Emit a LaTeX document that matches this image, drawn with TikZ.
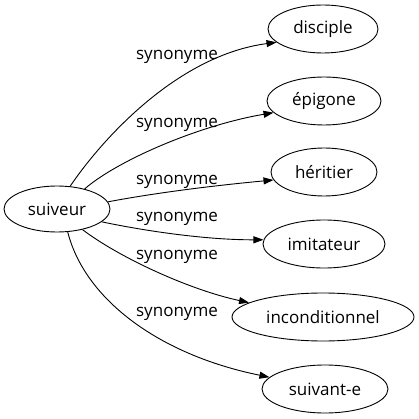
\documentclass[tikz,border=0pt]{standalone}
\usepackage{fontspec}
\setmainfont{Open Sans}
\usetikzlibrary{shapes.geometric,arrows.meta}
\begin{document}
\begin{tikzpicture}[x=1pt,y=-1pt,
  word/.style={ellipse,draw,line width=0.9pt,inner sep=0pt,font=\fontsize{17}{20}\selectfont},
  lbl/.style={anchor=base,inner sep=0pt,font=\fontsize{17}{20}\selectfont},
  link/.style={line width=0.9pt,-{Triangle[length=10pt,width=7pt]}}]
\useasboundingbox (0,0) rectangle (419,419);
\node[word,minimum width=106pt,minimum height=46pt] (s) at (57,209) {suiveur};
\node[word,minimum width=110pt,minimum height=48pt] (d) at (323,29) {disciple};
\node[word,minimum width=114pt,minimum height=48pt] (e) at (324,101) {épigone};
\node[word,minimum width=106pt,minimum height=48pt] (h) at (324,172) {héritier};
\node[word,minimum width=122pt,minimum height=48pt] (i) at (324,244) {imitateur};
\node[word,minimum width=182pt,minimum height=48pt] (c) at (323,317) {inconditionnel};
\node[word,minimum width=126pt,minimum height=48pt] (v) at (325,389) {suivant-e};
\node[lbl] (l1) at (177,60) {synonyme};
\node[lbl] (l2) at (177,128) {synonyme};
\node[lbl] (l3) at (177,185) {synonyme};
\node[lbl] (l4) at (177,222) {synonyme};
\node[lbl] (l5) at (177,259) {synonyme};
\node[lbl] (l6) at (177,316) {synonyme};
\draw[link] (s.60) .. controls (105,135) and (180,55) .. (d.196);
\draw[link] (s.36) .. controls (118,160) and (200,125) .. (e.193);
\draw[link] (s.8) .. controls (160,192) and (220,185) .. (h.189);
\draw[link] (s.-16) .. controls (150,232) and (210,240) .. (i.176);
\draw[link] (s.-39) .. controls (120,258) and (190,290) .. (c.169);
\draw[link] (s.-65) .. controls (85,300) and (160,355) .. (v.168);
\end{tikzpicture}
\end{document}
